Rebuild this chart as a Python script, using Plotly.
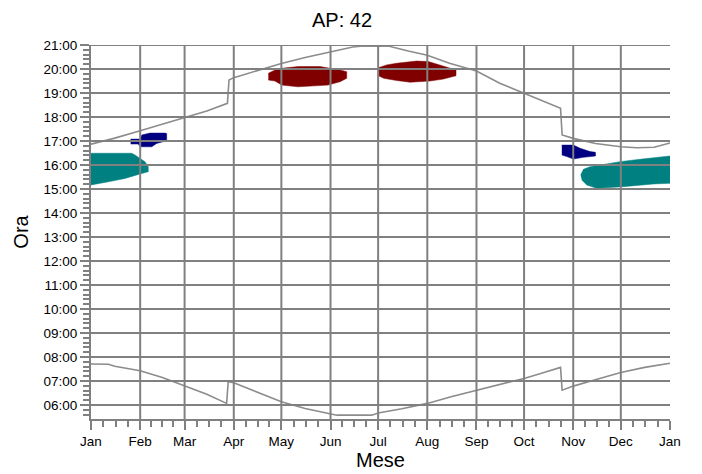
import plotly.graph_objects as go

# ---- axis tick data ----
month_labels = ["Jan", "Feb", "Mar", "Apr", "May", "Jun", "Jul", "Aug", "Sep", "Oct", "Nov", "Dec", "Jan"]
month_start_day = [0, 31, 59, 90, 120, 151, 181, 212, 243, 273, 304, 334, 365]
hour_ticks = list(range(6, 22))
hour_labels = [f"{h:02d}:00" for h in hour_ticks]

# ---- sunset / sunrise (day of year, hour) ----
sunset_day = [0, 15, 31, 45, 59, 73, 86, 87, 90, 105, 120, 135, 151, 165, 172, 188, 200, 212, 226, 243, 258, 274, 285, 296, 297, 304, 318, 334, 344, 355, 365]
sunset_hour = [16.87, 17.12, 17.43, 17.70, 17.95, 18.25, 18.57, 19.54, 19.64, 19.93, 20.23, 20.48, 20.70, 20.92, 20.96, 20.95, 20.75, 20.57, 20.24, 19.92, 19.40, 18.95, 18.65, 18.36, 17.25, 17.11, 16.90, 16.76, 16.72, 16.74, 16.92]

sunrise_day = [0, 11, 15, 31, 45, 59, 73, 85.5, 86.5, 90, 105, 120, 135, 151, 155, 177, 181, 196, 212, 227, 243, 258, 273, 285, 296, 297, 304, 319, 334, 349, 365]
sunrise_hour = [7.71, 7.70, 7.62, 7.43, 7.15, 6.80, 6.45, 6.07, 6.97, 6.93, 6.55, 6.14, 5.86, 5.65, 5.58, 5.58, 5.67, 5.85, 6.07, 6.35, 6.62, 6.87, 7.11, 7.35, 7.57, 6.62, 6.79, 7.08, 7.36, 7.57, 7.74]

# ---- shading periods (polygon outlines: day of year, hour) ----
teal_jan_day = [0, 25.6, 27.7, 30.9, 34, 36.1, 36.1, 32, 21.4, 10.9, 0]
teal_jan_hour = [16.49, 16.49, 16.42, 16.28, 16.14, 15.93, 15.72, 15.65, 15.44, 15.30, 15.17]

blue_feb_day = [25, 31, 32, 37.2, 46.7, 47.7, 47.7, 41.4, 38.3, 30.9, 29.8, 25]
blue_feb_hour = [17.08, 17.08, 17.25, 17.33, 17.33, 17.31, 17.01, 16.90, 16.76, 16.76, 16.875, 16.875]

red_may_day = [111.8, 116, 120.2, 130.7, 144.4, 151.7, 157, 161.2, 161.2, 157, 149.4, 130.5, 120.2, 116, 111.8]
red_may_hour = [19.82, 19.96, 20.03, 20.10, 20.10, 20.03, 19.96, 19.89, 19.61, 19.47, 19.33, 19.26, 19.33, 19.50, 19.54]

red_jul_day = [181.1, 186.4, 192.7, 196.9, 205.3, 212.6, 221.1, 226.3, 230.1, 230.1, 222.1, 213.7, 201.1, 192.7, 184.6, 181.1]
red_jul_hour = [20.05, 20.17, 20.24, 20.28, 20.33, 20.31, 20.15, 20.03, 19.96, 19.72, 19.58, 19.50, 19.45, 19.52, 19.61, 19.72]

blue_nov_day = [296.8, 304.1, 308.3, 314.6, 318, 318, 310.4, 304.1, 299.9, 296.8]
blue_nov_hour = [16.83, 16.83, 16.70, 16.56, 16.53, 16.375, 16.32, 16.25, 16.35, 16.42]

teal_dec_day = [308.7, 310.4, 314.6, 325.1, 333.5, 346.1, 365, 365, 354.5, 335.6, 318.8, 312.5, 309.4]
teal_dec_hour = [15.58, 15.82, 15.93, 16.04, 16.14, 16.24, 16.375, 15.24, 15.21, 15.10, 15.03, 15.17, 15.375]

TEAL = "#008080"
NAVY = "#000080"
MAROON = "#800000"
GRID = "#808080"
CURVE = "#8c8c8c"

fig = go.Figure()

for d, h, c in [
    (teal_jan_day, teal_jan_hour, TEAL),
    (blue_feb_day, blue_feb_hour, NAVY),
    (red_may_day, red_may_hour, MAROON),
    (red_jul_day, red_jul_hour, MAROON),
    (blue_nov_day, blue_nov_hour, NAVY),
    (teal_dec_day, teal_dec_hour, TEAL),
]:
    fig.add_trace(go.Scatter(x=d, y=h, mode="lines", fill="toself", fillcolor=c,
                             line=dict(color=c, width=0.5), hoverinfo="skip", showlegend=False))

fig.add_trace(go.Scatter(x=sunset_day, y=sunset_hour, mode="lines",
                         line=dict(color=CURVE, width=1.6), showlegend=False))
fig.add_trace(go.Scatter(x=sunrise_day, y=sunrise_hour, mode="lines",
                         line=dict(color=CURVE, width=1.6), showlegend=False))

# gridlines drawn above the filled regions
shapes = []
for d in month_start_day[1:-1]:
    shapes.append(dict(type="line", xref="x", yref="y domain", x0=d, x1=d, y0=0, y1=1,
                       line=dict(color=GRID, width=2), layer="above"))
for h in hour_ticks:
    shapes.append(dict(type="line", xref="x domain", yref="y", x0=0, x1=1, y0=h, y1=h,
                       line=dict(color=GRID, width=2), layer="above"))

minor_x = []
for i in range(len(month_start_day) - 1):
    a, b = month_start_day[i], month_start_day[i + 1]
    for k in (1, 2, 3):
        minor_x.append(a + (b - a) * k / 4)
minor_y = [round(5.4 + 0.2 * i, 2) for i in range(80) if 5.42 < 5.4 + 0.2 * i <= 21.0]

FONT = "Arial, Liberation Sans, sans-serif"

fig.update_layout(
    width=702, height=474,
    margin=dict(l=91, r=32, t=45, b=55),
    paper_bgcolor="white", plot_bgcolor="white",
    font=dict(family=FONT, color="black"),
    title=dict(text="AP: 42", x=342 / 702, xanchor="center", xref="container",
               y=1 - 20 / 474, yanchor="middle", yref="container",
               font=dict(size=20, family=FONT, color="black")),
    shapes=shapes,
    xaxis=dict(range=[0, 365], tickmode="array", tickvals=month_start_day, ticktext=month_labels,
               automargin=False,
               showgrid=False, zeroline=False, showline=True, linecolor=GRID, linewidth=2,
               ticks="outside", ticklen=9, tickwidth=2, tickcolor=GRID,
               tickfont=dict(size=13.5, family=FONT, color="black"),
               minor=dict(tickmode="array", tickvals=minor_x, ticks="outside", ticklen=6,
                          tickwidth=1.5, tickcolor=GRID, showgrid=False),
               title=dict(text="Mese", font=dict(size=20, family=FONT, color="black"), standoff=4)),
    yaxis=dict(range=[5.42, 21.0], tickmode="array", tickvals=hour_ticks, ticktext=hour_labels,
               automargin=False,
               showgrid=False, zeroline=False, showline=True, linecolor=GRID, linewidth=2,
               ticks="outside", ticklen=9, tickwidth=2, tickcolor=GRID,
               tickfont=dict(size=13.5, family=FONT, color="black"),
               minor=dict(tickmode="array", tickvals=minor_y, ticks="outside", ticklen=6,
                          tickwidth=1.5, tickcolor=GRID, showgrid=False),
               title=dict(text="Ora", font=dict(size=20, family=FONT, color="black"), standoff=10)),
)

fig.write_html("out.html", config={"displayModeBar": False},
               post_script="document.body.style.margin='0';document.body.style.overflow='hidden';")
